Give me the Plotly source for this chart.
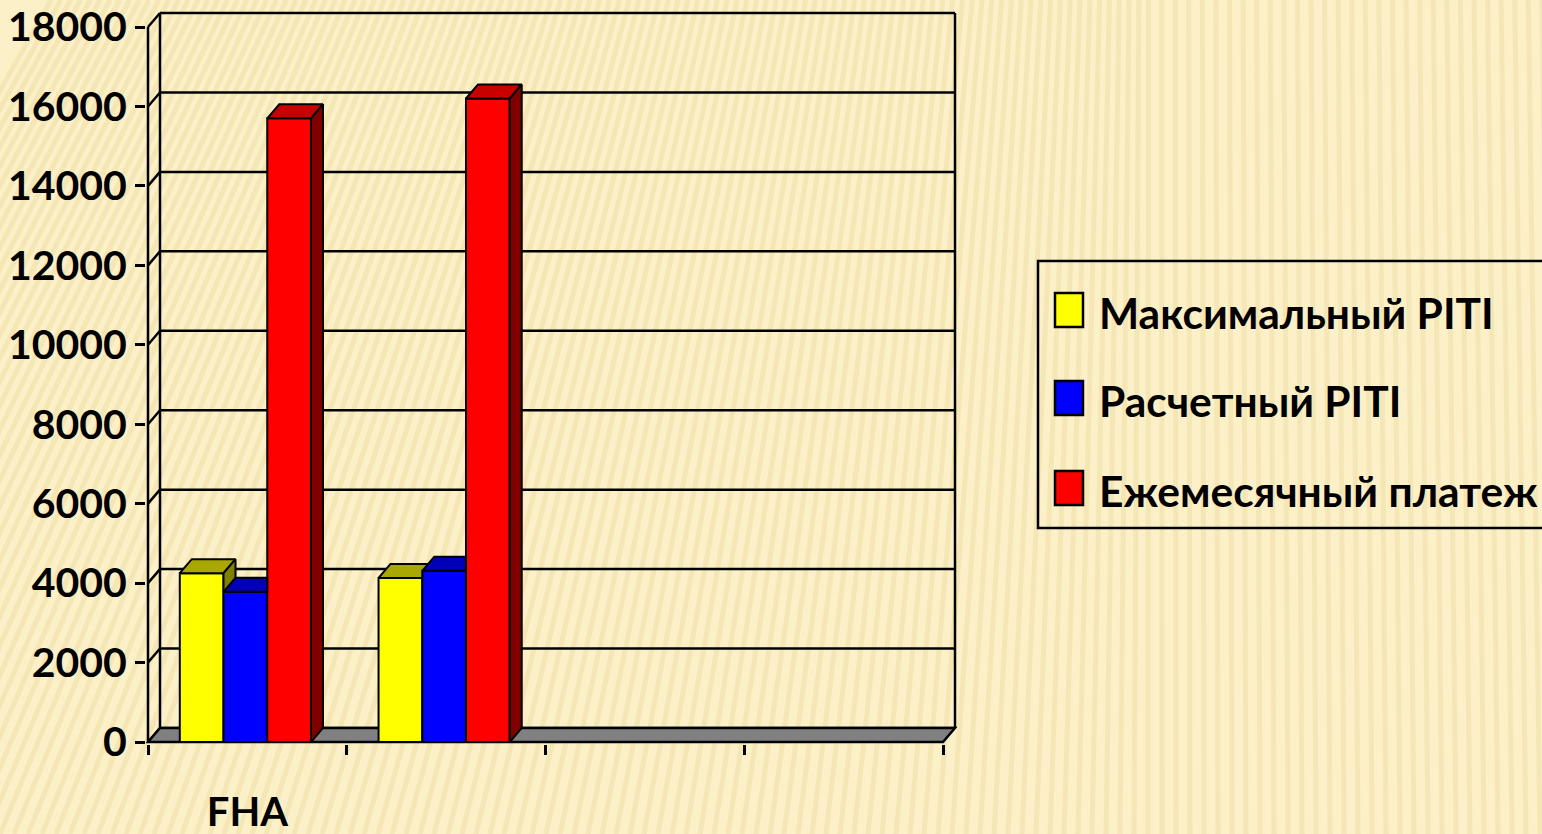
import plotly.graph_objects as go

# ---------------- data ----------------
categories = ["FHA", "", "", ""]
series_names = ["Максимальный PITI", "Расчетный PITI", "Ежемесячный платеж"]
max_piti = [4250, 4130, None, None]
calc_piti = [3780, 4310, None, None]
monthly_payment = [15700, 16200, None, None]
y_ticks = [0, 2000, 4000, 6000, 8000, 10000, 12000, 14000, 16000, 18000]
y_tick_labels = [str(v) for v in y_ticks]

series_values = [max_piti, calc_piti, monthly_payment]
front_colors = ["#FFFF00", "#0000FF", "#FF0000"]
top_colors = ["#A8A800", "#0000B8", "#C80000"]
side_colors = ["#808000", "#000080", "#800000"]

# ---------------- geometry (pixels) ----------------
W, H = 1542, 834
AX_LEFT, AX_RIGHT_FRONT, AX_RIGHT_BACK = 148, 943, 955
Y_ZERO, Y_MAX_FRONT, Y_MAX_BACK = 742, 27, 13
PAD = 2
n_cat = len(categories)
y_top = y_ticks[-1]

ppu_x = (AX_RIGHT_FRONT - AX_LEFT) / n_cat
ppu_y = (Y_ZERO - Y_MAX_FRONT) / y_top
DX = (AX_RIGHT_BACK - AX_RIGHT_FRONT) / ppu_x
DY = (Y_MAX_FRONT - Y_MAX_BACK) / ppu_y
x_lo, x_hi = -0.5, n_cat - 0.5
xr = [x_lo - PAD / ppu_x, x_hi + DX + PAD / ppu_x]
yr = [-PAD / ppu_y, y_top + DY + PAD / ppu_y]

plot_l = AX_LEFT - PAD
plot_r = AX_RIGHT_BACK + PAD
plot_t = Y_MAX_BACK - PAD
plot_b = Y_ZERO + PAD


def px2paper(px, py):
    return (px - plot_l) / (plot_r - plot_l), (plot_b - py) / (plot_b - plot_t)


BAR_W = 0.22
GROUP_START = -0.34
LINE_W = 2.5

fig = go.Figure()

# ---------------- bars: front faces ----------------
xs = list(range(n_cat))
for s, (name, vals) in enumerate(zip(series_names, series_values)):
    fig.add_trace(go.Bar(
        x=xs, y=vals, name=name, width=BAR_W, offset=GROUP_START + s * BAR_W,
        marker=dict(color=front_colors[s], line=dict(color="black", width=2)),
        showlegend=False, hovertemplate=name + ": %{y}<extra></extra>"))

# ---------------- bars: top and side faces ----------------
for s, vals in enumerate(series_values):
    tx, ty, sx, sy = [], [], [], []
    for i, v in enumerate(vals):
        if v is None:
            continue
        x0 = i + GROUP_START + s * BAR_W
        x1 = x0 + BAR_W
        vn = series_values[s + 1][i] if s + 1 < len(series_values) else None
        # top face
        if vn is None or vn <= v:
            pts = [(x0, v), (x0 + DX, v + DY), (x1 + DX, v + DY), (x1, v)]
        elif vn >= v + DY:
            pts = [(x0, v), (x0 + DX, v + DY), (x1, v + DY), (x1, v)]
        else:
            ex = x1 + DX * (vn - v) / DY
            pts = [(x0, v), (x0 + DX, v + DY), (x1 + DX, v + DY), (ex, vn), (x1, vn), (x1, v)]
        pts.append(pts[0])
        tx += [p[0] for p in pts] + [None]
        ty += [p[1] for p in pts] + [None]
        # side face
        if vn is None:
            spts = [(x1, 0), (x1 + DX, DY), (x1 + DX, v + DY), (x1, v)]
        elif vn < v:
            spts = [(x1, vn), (x1 + DX, vn), (x1 + DX, v + DY), (x1, v)]
        else:
            spts = None
        if spts:
            spts.append(spts[0])
            sx += [p[0] for p in spts] + [None]
            sy += [p[1] for p in spts] + [None]
    fig.add_trace(go.Scatter(x=tx, y=ty, mode="lines", fill="toself",
                             fillcolor=top_colors[s], line=dict(color="black", width=2),
                             showlegend=False, hoverinfo="skip"))
    if sx:
        fig.add_trace(go.Scatter(x=sx, y=sy, mode="lines", fill="toself",
                                 fillcolor=side_colors[s], line=dict(color="black", width=2),
                                 showlegend=False, hoverinfo="skip"))

shapes = []

# ---------------- background stripes ----------------
for k in range(-30, 125):
    xb = k * 14
    xt = xb + 0.3 * (1150 - xb) if xb < 1150 else xb - 0.03 * (xb - 1150)
    p0 = px2paper(xb, H)
    p1 = px2paper(xt, 0)
    shapes.append(dict(type="line", xref="paper", yref="paper",
                       x0=p0[0], y0=p0[1], x1=p1[0], y1=p1[1],
                       line=dict(color="rgba(225,195,120,0.22)", width=5), layer="below"))

# ---------------- 3D frame ----------------
frame = dict(color="black", width=LINE_W)
for v in y_ticks:
    shapes.append(dict(type="line", x0=x_lo + DX, y0=v + DY, x1=x_hi + DX, y1=v + DY,
                       line=frame, layer="below"))
    shapes.append(dict(type="line", x0=x_lo, y0=v, x1=x_lo + DX, y1=v + DY,
                       line=frame, layer="below"))
shapes.append(dict(type="line", x0=x_lo + DX, y0=DY, x1=x_lo + DX, y1=y_top + DY, line=frame, layer="below"))
shapes.append(dict(type="line", x0=x_hi + DX, y0=DY, x1=x_hi + DX, y1=y_top + DY, line=frame, layer="below"))
shapes.append(dict(type="line", x0=x_lo, y0=0, x1=x_lo, y1=y_top, line=frame, layer="below"))
floor_path = "M {a},{b} L {c},{b} L {d},{e} L {f},{e} Z".format(
    a=x_lo, b=0, c=x_hi, d=x_hi + DX, e=DY, f=x_lo + DX)
shapes.append(dict(type="path", path=floor_path, fillcolor="#808080",
                   line=frame, layer="below"))

# ---------------- legend (drawn) ----------------
FONT = "Lato, 'Open Sans', sans-serif"
lb0 = px2paper(1038, 528)
lb1 = px2paper(1600, 261)
shapes.append(dict(type="rect", xref="paper", yref="paper", x0=lb0[0], y0=lb0[1],
                   x1=lb1[0], y1=lb1[1], line=dict(color="black", width=2.5),
                   fillcolor="rgba(0,0,0,0)"))
annotations = []
legend_centers = [310, 398, 488]
for s, name in enumerate(series_names):
    cy = legend_centers[s]
    a = px2paper(1055, cy + 17)
    b = px2paper(1083, cy - 17)
    shapes.append(dict(type="rect", xref="paper", yref="paper", x0=a[0], y0=a[1],
                       x1=b[0], y1=b[1], fillcolor=front_colors[s],
                       line=dict(color="black", width=2.5)))
    t = px2paper(1097, cy + 2)
    annotations.append(dict(xref="paper", yref="paper", x=t[0], y=t[1], text=name,
                            showarrow=False, xanchor="left", yanchor="middle",
                            font=dict(family=FONT, size=42.5, color="black", weight="bold")))

fig.update_layout(
    width=W, height=H, autosize=False,
    margin=dict(l=plot_l, r=W - plot_r, t=plot_t, b=H - plot_b, pad=0, autoexpand=False),
    paper_bgcolor="#FCF0C8", plot_bgcolor="rgba(0,0,0,0)",
    barmode="overlay", showlegend=False,
    shapes=shapes, annotations=annotations,
    xaxis=dict(range=xr, tickmode="array", tickvals=xs, ticktext=categories,
               ticks="", showgrid=False, zeroline=False, showline=False,
               automargin=False, ticklabelstandoff=41,
               tickfont=dict(family=FONT, size=40, color="black", weight="bold"),
               minor=dict(tickmode="array", tickvals=[x_lo + k for k in range(n_cat + 1)],
                          ticks="outside", ticklen=10, tickwidth=2.5, tickcolor="black"),
               fixedrange=True),
    yaxis=dict(range=yr, tickmode="array", tickvals=y_ticks, ticktext=y_tick_labels,
               ticks="outside", ticklen=10, tickwidth=2.5, tickcolor="black",
               showgrid=False, zeroline=False, showline=False, ticklabelstandoff=0,
               automargin=False,
               tickfont=dict(family=FONT, size=41, color="black", weight="bold"),
               fixedrange=True),
)

fig.write_html("out.html", config={"displayModeBar": False},
               post_script="document.body.style.margin='0';")
